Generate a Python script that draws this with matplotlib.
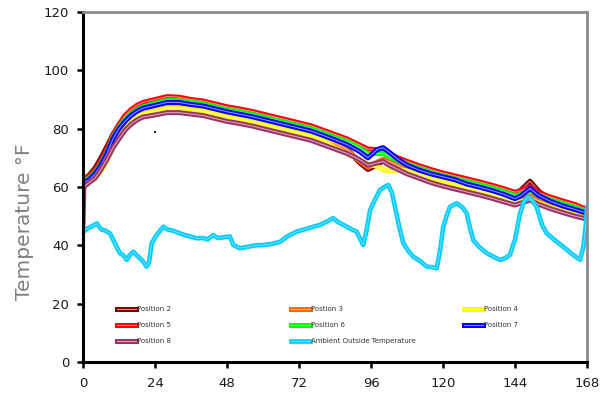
import matplotlib
matplotlib.use("Agg")
import matplotlib.pyplot as plt
import matplotlib.patheffects as pe
from matplotlib.colors import to_rgb

# ---------------- data ----------------
hours = [0, 0.3, 2, 4, 6, 8, 10, 12, 14, 16, 18, 20, 24, 28, 32, 36, 40, 44, 48, 52, 56, 60,
         64, 68, 72, 76, 80, 84, 88, 92, 95, 98, 100, 102, 105, 108, 112, 116, 120, 124, 128,
         132, 136, 140, 144, 146, 149, 152, 156, 160, 164, 168]

pos2 = [62, 62.8, 64, 66.5, 70, 74, 78, 80.5, 82.5, 84.5, 85.5, 86.5, 87.3, 88, 88, 87.5, 87, 86,
        85, 84.3, 83.5, 82.5, 81.5, 80.5, 79.5, 78.5, 77, 75.3, 73, 68.5, 66, 67.5, 69, 68.5, 67,
        66, 64.5, 63.2, 62, 61, 60, 59, 58, 56.8, 57.5, 59, 62, 58.5, 55.5, 53.5, 52, 50.5]
pos3 = [61.5, 62.5, 63.5, 65.5, 68.5, 72, 76, 79, 81.5, 83.5, 85, 86, 87, 87.8, 87.8, 87.2, 86.7,
        85.7, 84.7, 84, 83.2, 82.2, 81.2, 80.2, 79.2, 78.2, 76.7, 75, 73, 69, 66.8, 68.5, 69.5,
        68.8, 67.3, 66, 64.5, 63, 61.8, 60.8, 59.8, 58.8, 57.7, 56.5, 55, 55.5, 57, 55, 53.5, 52.2,
        51, 49.5]
pos4 = [60, 60.5, 61.5, 63, 65.5, 69, 73.5, 77.5, 80.5, 82.5, 84, 85, 86, 87, 87, 86.5, 86, 85,
        84, 83.2, 82.4, 81.4, 80.4, 79.4, 78.4, 77.4, 76, 73.5, 71.5, 69.5, 68, 67, 66, 65.5, 65.8,
        65.5, 64.3, 63, 61.8, 60.8, 59.8, 58.8, 57.7, 56.5, 55, 55, 55.5, 54.5, 53, 51.7, 50.5, 49]
pos5 = [62, 62.5, 63.5, 65.5, 69, 73, 78, 81.5, 84.5, 86.5, 88, 89, 90, 91, 90.8, 90, 89.5, 88.5,
        87.5, 86.8, 86, 85, 84, 83, 82, 81, 79.5, 78, 76.5, 74.5, 73, 72.8, 72.5, 71.5, 70, 68.8,
        67.3, 66, 64.8, 63.8, 62.8, 61.8, 60.7, 59.5, 58.2, 58.8, 60, 58, 56.5, 55.2, 54, 52.3]
pos6 = [61.5, 62, 63, 65, 68, 72, 77, 80.5, 83, 85, 86.5, 87.5, 88.7, 89.7, 89.6, 89, 88.5, 87.5,
        86.5, 85.8, 85, 84, 83, 82, 81, 80, 78.5, 77, 75.5, 73.5, 71.5, 71.5, 71.5, 70.5, 69, 67.8,
        66.3, 65, 63.8, 62.8, 61.8, 60.8, 59.7, 58.5, 57, 57.5, 59, 57, 55.5, 54.2, 53, 51.5]
pos7 = [61, 61.5, 62.5, 64.5, 67.5, 71.5, 76.5, 80, 82.5, 84.5, 86, 87, 88, 89, 89, 88.3, 87.8,
        86.8, 85.8, 85, 84.2, 83.2, 82.2, 81.2, 80.2, 79.2, 77.7, 76.2, 74.5, 72.3, 70, 72.8, 73.5,
        72, 69.5, 67.5, 65.8, 64.5, 63.5, 62.5, 61, 60, 58.9, 57.6, 56, 57, 59.5, 57, 55, 53.5,
        52.3, 51]
pos8 = [47, 60, 61.5, 63, 66, 69.5, 73.5, 76.5, 79.5, 81.5, 83, 84, 84.7, 85.5, 85.5, 85, 84.5,
        83.5, 82.5, 81.8, 81, 80, 79, 78, 77, 76, 74.5, 73, 71.5, 69.5, 67.5, 68.2, 68.8, 67.5, 66,
        64.5, 63, 61.5, 60.3, 59.3, 58.3, 57.3, 56.2, 55, 53.8, 54.5, 55.5, 54, 52.5, 51.2, 50, 49]

amb_hours = [0, 1.5, 3, 4.6, 6, 7.5, 9, 10.5, 12.3, 13.5, 14.6, 15.5, 16.8, 18, 19, 20, 21.2, 22,
             22.9, 24.5, 26.8, 28, 30, 32.3, 34, 36, 37.9, 40, 41.5, 43.4, 45, 47, 49, 50.1, 52.3,
             55, 57.5, 60.1, 63, 65.7, 68, 71.2, 74, 76.8, 79, 81, 83.4, 85, 87.9, 89.5, 91.2,
             92.5, 93.4, 94.5, 95.7, 97.5, 99, 100.5, 101.8, 103, 104, 105.5, 106.8, 108.5, 110.1,
             112.5, 114.6, 116.5, 117.9, 119, 120.1, 121.2, 122.3, 124.6, 126.5, 127.9, 129, 130.1,
             132, 134.6, 137, 139, 140.5, 142.3, 144, 145.7, 147, 148.4, 150, 151.2, 153, 154.6,
             157, 160.1, 163, 165.7, 166.8, 167.5, 168]
ambient = [44.5, 45.8, 46.5, 47.5, 45.5, 45, 44.1, 41, 37.3, 36.5, 35, 36.5, 37.8, 36.5, 35.5,
           34.5, 32.7, 34, 40.7, 43.5, 46.4, 45.5, 45, 44.1, 43.5, 43, 42.4, 42.5, 42, 43.5, 42.5,
           42.8, 43, 40.1, 39, 39.5, 40, 40.1, 40.5, 41.2, 43, 44.7, 45.5, 46.4, 47, 48, 49.3, 48,
           46.4, 45.5, 44.7, 42, 40.1, 45, 52.1, 56, 59, 60, 60.7, 58, 53.2, 46, 40.7, 38, 36.1,
           34.5, 32.7, 32.5, 32.1, 38, 46.4, 50, 53.2, 54.4, 53, 51, 46, 41.8, 39.5, 37.3, 36, 35,
           35.5, 36.7, 42, 51, 55, 56.7, 55, 53.2, 47, 44.1, 42, 39.5, 37, 35, 39.5, 46, 53]

stray_hours = [24]
stray_values = [79]

labels = ["Position 2", "Postion 3", "Position 4", "Position 5", "Position 6",
          "Position 7", "Position 8", "Ambient Outside Temperature"]
colors = ["#800000", "#FF6600", "#FFFF00", "#FF0000", "#00FF00", "#0000FF", "#993366", "#00CCFF"]

x_ticks = [0, 24, 48, 72, 96, 120, 144, 168]
y_ticks = [0, 20, 40, 60, 80, 100, 120]

# ---------------- figure ----------------
fig = plt.figure(figsize=(6.02, 3.98), dpi=100)
ax = fig.add_axes([83 / 602, 1 - 362 / 398, 504 / 602, 350 / 398])


def light(c, f=0.55):
    r, g, b = to_rgb(c)
    return (r + (1 - r) * f, g + (1 - g) * f, b + (1 - b) * f)


series = [pos2, pos3, pos4, pos5, pos6, pos7, pos8]
handles = []
for vals, lab, col in zip(series, labels[:7], colors[:7]):
    ln, = ax.plot(hours, vals, color=light(col), lw=0.8, label=lab, solid_joinstyle="round",
                  path_effects=[pe.Stroke(linewidth=3.6, foreground=col), pe.Normal()])
    handles.append(ln)
amb, = ax.plot(amb_hours, ambient, color=light(colors[7], 0.4), lw=0.8, label=labels[7],
               path_effects=[pe.Stroke(linewidth=3.3, foreground=colors[7]), pe.Normal()])
handles.append(amb)
ax.plot(stray_hours, stray_values, "s", color="#222222", ms=1.5, mew=0)

ax.set_xlim(0, 168)
ax.set_ylim(0, 120)
ax.set_xticks(x_ticks)
ax.set_yticks(y_ticks)

for s in ["left", "bottom"]:
    ax.spines[s].set_color("black")
    ax.spines[s].set_linewidth(2.2)
for s in ["top", "right"]:
    ax.spines[s].set_color("#8c8c8c")
    ax.spines[s].set_linewidth(2.0)

ax.tick_params(axis="both", direction="out", length=4, width=1.8, colors="black",
               labelsize=9.5, labelcolor="#1a1a1a")
ax.tick_params(axis="x", pad=7)
ax.tick_params(axis="y", pad=6)

ax.set_ylabel("Temperature °F", fontsize=14.5, color="#808080")
ax.yaxis.set_label_coords(-0.098, 0.40)

# legend: three separate columns placed like the original
groups = [[0, 3, 6], [1, 4, 7], [2, 5]]
xs = [117, 291, 464]
legs = []
for g, xp in zip(groups, xs):
    leg = ax.legend([handles[i] for i in g], [labels[i] for i in g],
                    loc="upper left", bbox_to_anchor=((xp - 83) / 504, (362 - 306) / 350),
                    frameon=False, fontsize=5, handlelength=2.7, handletextpad=0.15,
                    labelspacing=1.45, borderaxespad=0, borderpad=0)
    for t in leg.get_texts():
        t.set_color("#333333")
    legs.append(leg)
for leg in legs[:-1]:
    ax.add_artist(leg)

fig.savefig("out.png", dpi=100)
